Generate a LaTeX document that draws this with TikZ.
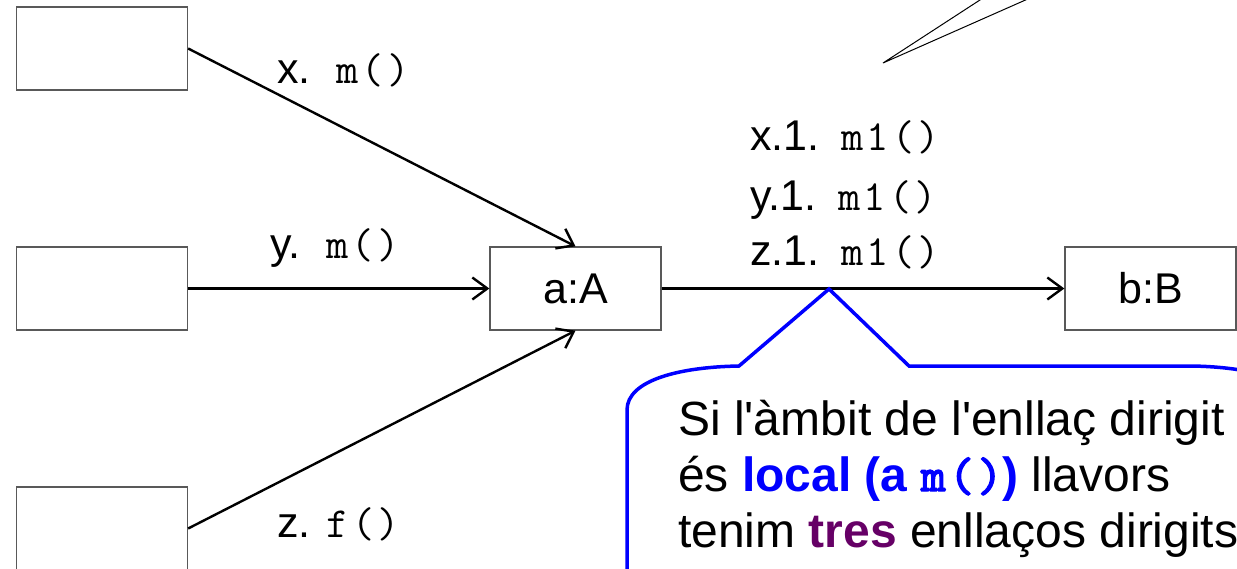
\documentclass[tikz,border=0pt]{standalone}
\usepackage{fontspec}
\setmainfont{Liberation Sans}
\newfontfamily\methfont{Latin Modern Mono}[LetterSpace=7.5]
\newfontfamily\methboldfont{Latin Modern Mono}[FakeBold=3,LetterSpace=7.5]
\usetikzlibrary{arrows.meta}
\definecolor{noteblue}{RGB}{0,0,255}
\definecolor{trespurple}{RGB}{102,0,102}
\tikzset{
  objbox/.style={draw=black!65, line width=1.3pt, minimum width=171pt, minimum height=83pt, inner sep=0pt, font=\fontsize{43}{50}\selectfont},
  msg/.style={line width=2.4pt, -{Straight Barb[length=15pt,width=22pt,line width=2.4pt]}},
  msglabel/.style={anchor=base west, inner sep=0pt, font=\fontsize{43}{48}\selectfont},
  noteline/.style={anchor=base west, inner sep=0pt, font=\fontsize{48}{56}\selectfont},
}
\newcommand{\meth}[1]{{\methfont #1}}
\newcommand{\q}{\textquotesingle}
\begin{document}
\begin{tikzpicture}[x=1pt,y=-1pt]
	\useasboundingbox (0,0) rectangle (1237,568);
	\clip (0,0) rectangle (1237,568);
	% objectes
	\node[objbox] (cx) at (102,48.5) {};
	\node[objbox] (cy) at (102,288.5) {};
	\node[objbox] (cz) at (102,528.5) {};
	\node[objbox] (a) at (575.5,288.5) {a:A};
	\node[objbox] (b) at (1150.5,288.5) {b:B};
	% missatges
	\draw[msg] (cx.east) -- (a.north);
	\draw[msg] (cy.east) -- (a.west);
	\draw[msg] (cz.east) -- (a.south);
	\draw[msg] (a.east) -- (b.west);
	\node[msglabel] (lx) at (277,83) {x.\hspace{26pt}\meth{m()}};
	\node[msglabel] (ly) at (270,258) {y.\hspace{26pt}\meth{m()}};
	\node[msglabel] (lz) at (277,537) {z.\hspace{16pt}\meth{f()}};
	\node[msglabel] (lx1) at (750,150) {x.1.\hspace{22pt}\meth{m1()}};
	\node[msglabel] (ly1) at (750,210) {y.1.\hspace{22pt}\meth{m1()}};
	\node[msglabel] (lz1) at (750,265) {z.1.\hspace{22pt}\meth{m1()}};
	% punter d'una altra nota
	\draw[line width=1pt] (983,-2) -- (883,63) -- (1030,-2);
	% nota
	\coordinate (tip) at (829,289);
	\draw[noteblue, line width=3.5pt, fill=white, line join=miter]
	  (627,600) -- (627,410) .. controls (627,380) and (680,367) .. (739,366)
	  -- (tip) -- (909,366) -- (1192,366)
	  .. controls (1251,367) and (1302,380) .. (1302,410) -- (1302,600);
	\node[noteline] (n1) at (678,435) {Si l\q{}àmbit de l\q{}enllaç dirigit};
	\node[noteline] (n2) at (678,491) {és \textcolor{noteblue}{\bfseries local (a {\methboldfont m()})} llavors};
	\node[noteline] (n3) at (678,547) {tenim \textcolor{trespurple}{\bfseries tres} enllaços dirigits};
\end{tikzpicture}
\end{document}
